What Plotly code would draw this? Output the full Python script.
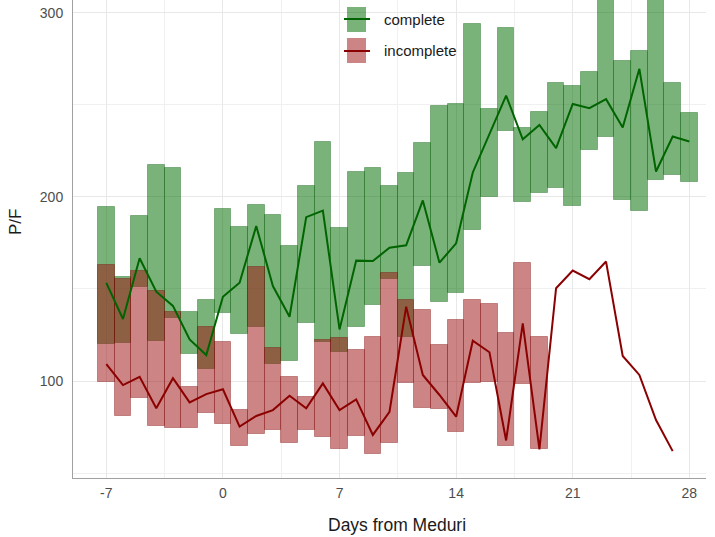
import plotly.graph_objects as go

days = list(range(-7, 29))

complete_low = [120.1, 120.8, 151.3, 121.7, 134.0, 114.7, 106.4, 137.1, 125.5, 129.5,
                109.0, 111.0, 131.7, 121.4, 115.9, 129.2, 141.3, 155.3, 124.1, 162.6,
                143.1, 147.6, 182.1, 200.2, 236.0, 197.5, 202.3, 204.7, 194.9, 225.5,
                232.8, 198.4, 192.4, 209.2, 212.0, 208.3]
complete_high = [194.7, 156.7, 189.8, 217.4, 215.6, 137.7, 144.0, 193.6, 183.9, 195.5,
                 190.2, 173.4, 206.0, 230.0, 183.3, 213.4, 215.6, 206.0, 213.2, 229.5,
                 249.5, 250.4, 294.2, 247.8, 291.7, 237.3, 246.0, 262.1, 260.3, 268.1,
                 330.0, 273.9, 279.3, 330.0, 262.1, 245.5]
complete_mid = [153.3, 133.7, 166.7, 148.5, 140.8, 122.6, 114.1, 145.8, 153.4, 184.2,
                151.6, 134.9, 189.0, 192.6, 128.0, 165.4, 165.2, 172.4, 173.7, 198.1,
                164.3, 174.8, 213.3, 234.6, 255.1, 231.3, 239.1, 226.5, 250.5, 248.2,
                253.1, 237.7, 269.6, 213.8, 232.8, 230.1]

inc_days = list(range(-7, 20))
incomplete_low = [99.5, 81.0, 90.6, 75.5, 74.3, 74.3, 82.4, 76.6, 64.7, 71.2,
                  73.4, 66.1, 73.4, 69.7, 62.9, 70.0, 60.3, 66.1, 98.7, 85.2,
                  84.6, 72.4, 98.7, 99.6, 64.9, 98.4, 62.9]
incomplete_high = [163.0, 155.3, 160.0, 149.1, 137.3, 96.6, 129.5, 121.0, 84.2, 161.8,
                   117.8, 102.3, 91.5, 122.3, 123.5, 116.8, 124.1, 158.7, 144.0, 138.6,
                   119.6, 133.2, 144.0, 141.8, 126.3, 164.3, 123.7]
line_days = list(range(-7, 28))
incomplete_mid = [109.2, 97.8, 102.3, 85.2, 101.5, 88.4, 92.9, 95.5, 75.2, 81.0,
                  84.2, 92.0, 85.2, 98.7, 84.2, 90.0, 70.7, 83.3, 140.4, 103.3,
                  92.4, 80.6, 121.9, 115.6, 67.7, 131.3, 62.9, 150.4, 160.0, 155.3,
                  164.9, 113.6, 103.3, 78.8, 61.9]

x_ticks = [-7, 0, 7, 14, 21, 28]
y_ticks = [100, 200, 300]

GREEN_FILL = "rgba(0,110,0,0.52)"
GREEN_EDGE = "rgba(0,90,0,0.35)"
RED_FILL = "rgba(160,20,20,0.52)"
RED_EDGE = "rgba(120,0,0,0.35)"
GREEN_LINE = "#006400"
RED_LINE = "#8b0000"
FONT = "Liberation Sans, Arial, sans-serif"

fig = go.Figure()
fig.add_trace(go.Bar(
    x=days, base=complete_low,
    y=[h - l for h, l in zip(complete_high, complete_low)],
    width=1, marker=dict(color=GREEN_FILL, line=dict(color=GREEN_EDGE, width=1)),
    showlegend=False, hoverinfo="skip"))
fig.add_trace(go.Bar(
    x=inc_days, base=incomplete_low,
    y=[h - l for h, l in zip(incomplete_high, incomplete_low)],
    width=1, marker=dict(color=RED_FILL, line=dict(color=RED_EDGE, width=1)),
    showlegend=False, hoverinfo="skip"))
fig.add_trace(go.Scatter(x=days, y=complete_mid, mode="lines",
                         line=dict(color=GREEN_LINE, width=2), showlegend=False,
                         hoverinfo="skip"))
fig.add_trace(go.Scatter(x=line_days, y=incomplete_mid, mode="lines",
                         line=dict(color=RED_LINE, width=2), showlegend=False,
                         hoverinfo="skip"))

# manual legend (paper coordinates)
L, R, T, B = 73, 706, 0, 478
W, H = R - L, B - T
def px(xp): return (xp - L) / W
def py(yp): return 1 - (yp - T) / H

legend_items = [("complete", GREEN_FILL, GREEN_LINE, 7, 32, 19),
                ("incomplete", RED_FILL, RED_LINE, 38, 63, 51)]
for name, fill, lc, y0, y1, yc in legend_items:
    fig.add_shape(type="rect", xref="paper", yref="paper",
                  x0=px(347), x1=px(366), y0=py(y1), y1=py(y0),
                  fillcolor=fill, line=dict(width=0))
    fig.add_shape(type="line", xref="paper", yref="paper",
                  x0=px(344), x1=px(370), y0=py(yc), y1=py(yc),
                  line=dict(color=lc, width=2))
    fig.add_annotation(text=name, xref="paper", yref="paper", x=px(382), y=py(yc),
                       xanchor="left", yanchor="middle", showarrow=False,
                       font=dict(family=FONT, size=15, color="#1a1a1a"))

# axis titles
fig.add_annotation(text="Days from Meduri", xref="paper", yref="paper",
                   x=px(397), y=0, yanchor="top", yshift=-35, showarrow=False,
                   font=dict(family=FONT, size=17.5, color="#1a1a1a"))
fig.add_annotation(text="P/F", xref="paper", yref="paper", textangle=-90,
                   x=0, y=py(222), xanchor="center", xshift=-57, showarrow=False,
                   font=dict(family=FONT, size=17, color="#1a1a1a"))

fig.update_layout(
    width=715, height=537,
    margin=dict(l=L, r=715 - R, t=T, b=537 - B),
    paper_bgcolor="white", plot_bgcolor="white",
    barmode="overlay", bargap=0, hovermode=False,
    font=dict(family=FONT, size=14, color="#4d4d4d"),
    showlegend=False,
)
fig.update_xaxes(
    range=[-9, 29], tickvals=x_ticks, ticktext=[str(v) for v in x_ticks],
    automargin=False,
    showgrid=True, gridcolor="#e8e8e8", gridwidth=1,
    minor=dict(tickvals=[-10.5, -3.5, 3.5, 10.5, 17.5, 24.5], showgrid=True,
               gridcolor="#f0f0f0", gridwidth=1),
    showline=True, linecolor="#a0a0a0", linewidth=1, zeroline=False,
    ticks="outside", ticklen=2, tickcolor="rgba(0,0,0,0)",
    tickfont=dict(size=14, color="#4d4d4d"),
)
fig.update_yaxes(
    range=[47.3, 307], tickvals=y_ticks, ticktext=[str(v) for v in y_ticks],
    automargin=False,
    showgrid=True, gridcolor="#e8e8e8", gridwidth=1,
    minor=dict(tickvals=[50, 150, 250], showgrid=True, gridcolor="#f0f0f0", gridwidth=1),
    showline=True, linecolor="#a0a0a0", linewidth=1, zeroline=False,
    ticks="outside", ticklen=6, tickcolor="rgba(0,0,0,0)",
    tickfont=dict(size=14, color="#4d4d4d"),
)

fig.write_html("out.html", config={"displayModeBar": False},
               post_script="document.body.style.margin='0';")
